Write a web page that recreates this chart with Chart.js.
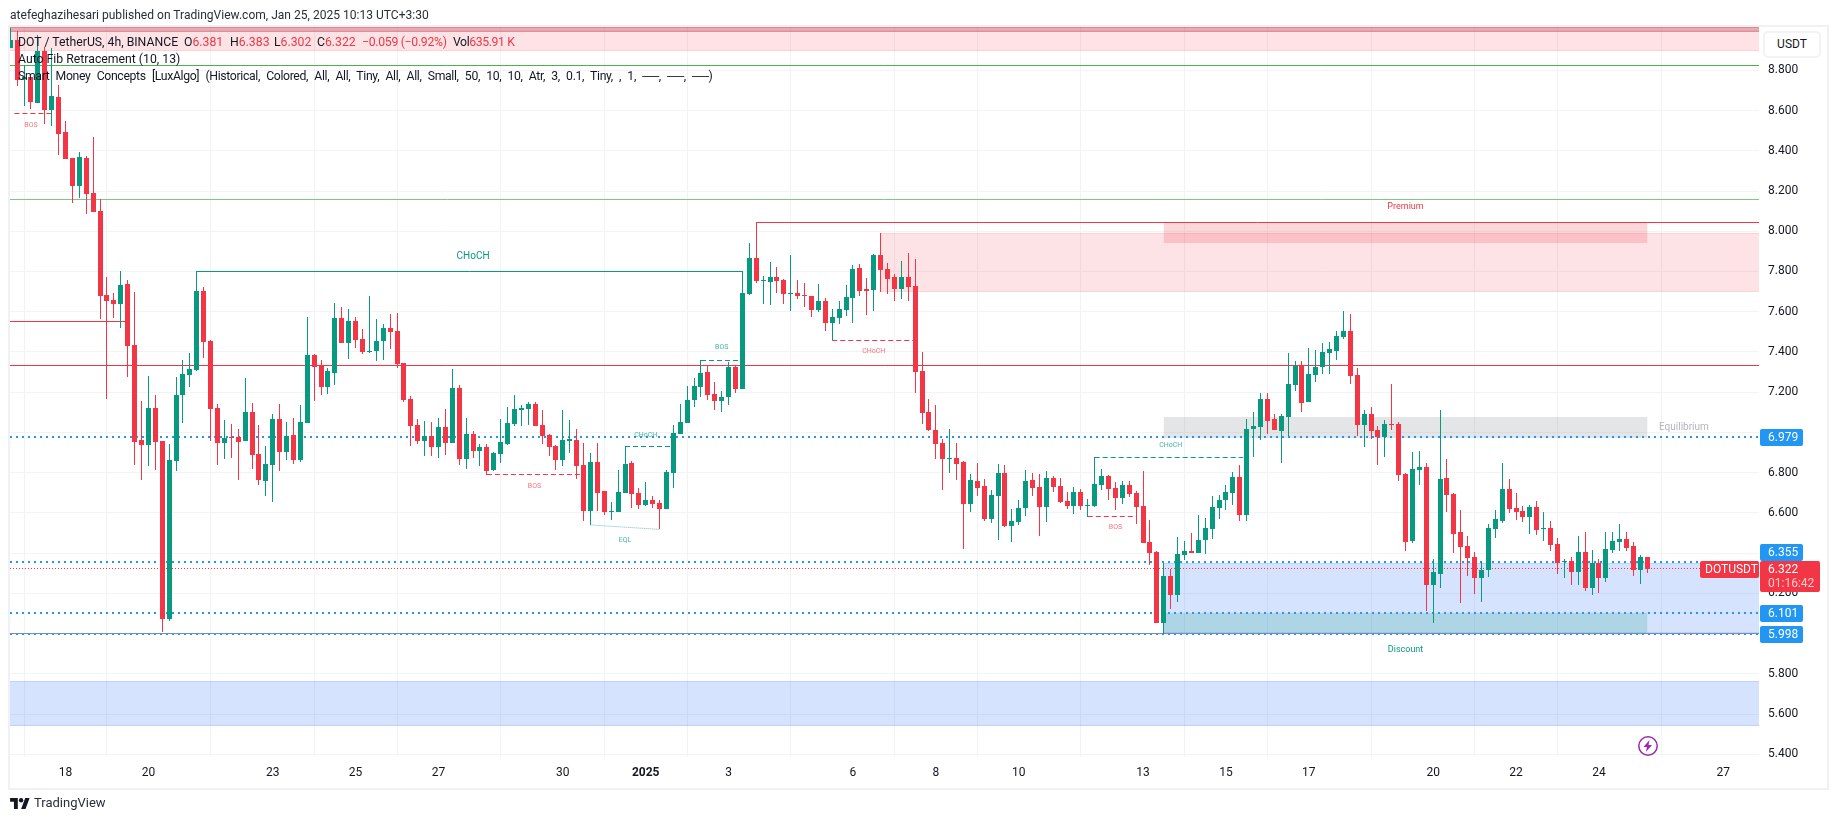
<!DOCTYPE html>
<html>
<head>
<meta charset="utf-8">
<title>DOTUSDT 4h</title>
<script src="https://cdn.jsdelivr.net/npm/chart.js@4"></script>
<style>
  html, body { margin: 0; padding: 0; background: #fff; }
  body { width: 1835px; height: 821px; position: relative; overflow: hidden; font-family: Roboto, sans-serif; color: #131722; }
  #frame { position: absolute; left: 8px; top: 25px; width: 1817px; height: 761px; border: 2px solid #eff1f6; box-sizing: content-box; }
  canvas { position: absolute; left: 0; top: 0; }
  .txt { position: absolute; white-space: pre; }
  #header { left: 10px; top: 6px; font-size: 12.05px; line-height: 18px; color: #2a2e39; }
  .leg { font-size: 12.25px; line-height: 16px; }
  .leg b { font-weight: 400; color: #f23645; }
  #tvname { left: 34px; top: 794px; font-size: 13px; line-height: 18px; color: #2a2e39; }
  #usdt { position: absolute; left: 1763px; top: 31px; width: 54px; height: 23px; border: 2px solid #f0f3fa; border-radius: 5px; background: #fff; font-size: 12px; line-height: 23px; text-align: center; }
  #tvlogo { position: absolute; left: 10px; top: 798px; }
  #bolt { position: absolute; left: 1637px; top: 735px; }
</style>
</head>
<body>
<div id="frame"></div>
<canvas id="grafico" width="1835" height="821"></canvas>
<div class="txt" id="header">atefeghazihesari published on TradingView.com, Jan 25, 2025 10:13 UTC+3:30</div>
<div class="txt leg" style="left:18px;top:34px">DOT / TetherUS, 4h, BINANCE</div>
<div class="txt leg" style="left:184px;top:34px">O<b>6.381</b></div>
<div class="txt leg" style="left:230px;top:34px">H<b>6.383</b></div>
<div class="txt leg" style="left:274px;top:34px">L<b>6.302</b></div>
<div class="txt leg" style="left:317px;top:34px">C<b>6.322</b></div>
<div class="txt leg" style="left:362px;top:34px;letter-spacing:-.3px"><b>−0.059 (−0.92%)</b></div>
<div class="txt leg" style="left:453px;top:34px;letter-spacing:-.4px">Vol<b>635.91 K</b></div>
<div class="txt leg" style="left:18px;top:51px">Auto Fib Retracement (10, 13)</div>
<div class="txt leg" style="left:18px;top:68px;letter-spacing:-.35px;word-spacing:3.5px">Smart Money Concepts [LuxAlgo] (Historical, Colored, All, All, Tiny, All, All, Small, 50, 10, 10, Atr, 3, 0.1, Tiny, , 1, ──, ──, ──)</div>
<div id="usdt">USDT</div>
<svg id="tvlogo" width="20" height="11" viewBox="0 0 36 20"><path fill="#131722" d="M14 20H7V7H0V0h14v20zM28 20h-8l7.500-20h8L28 20z"/><circle fill="#131722" cx="20" cy="4" r="4"/></svg>
<div class="txt" id="tvname">TradingView</div>
<svg id="bolt" width="22" height="22" viewBox="0 0 22 22"><circle cx="11" cy="11" r="9.200" fill="none" stroke="#9c27b0" stroke-width="1.500"/><path fill="#9c27b0" d="M12.500 5 6.500 12h3.500l-1.200 5 6.200-7h-3.500z"/></svg>

<script>
// candles de 4h, o indice 0 e 18 de dezembro 00:00
const firstCandle = -8;

const opens = [
  8.910,8.950,8.756,8.766,8.637,8.895,8.602,8.667,8.493,8.364,
  8.224,8.364,8.190,8.100,7.683,7.658,7.638,7.738,7.435,6.962,
  6.937,7.121,6.957,6.073,6.858,7.186,7.285,7.310,7.703,7.454,
  7.121,6.947,6.977,6.977,6.957,7.101,6.893,6.758,6.838,7.067,
  6.903,6.987,6.863,7.047,7.385,7.335,7.226,7.295,7.569,7.444,
  7.554,7.464,7.400,7.405,7.454,7.519,7.504,7.345,7.166,7.037,
  6.957,6.982,6.928,7.027,6.947,7.221,6.868,6.992,6.908,6.928,
  6.813,6.893,6.942,7.042,7.111,7.116,7.141,7.037,6.987,6.933,
  6.863,6.957,6.962,6.838,6.609,6.853,6.709,6.604,6.604,6.699,
  6.848,6.699,6.639,6.664,6.649,6.619,6.798,6.992,7.047,7.161,
  7.226,7.300,7.191,7.156,7.176,7.325,7.216,7.688,7.867,7.752,
  7.747,7.772,7.757,7.688,7.693,7.683,7.678,7.608,7.653,7.544,
  7.569,7.608,7.668,7.817,7.713,7.708,7.882,7.812,7.772,7.713,
  7.772,7.728,7.305,7.101,7.012,6.947,6.868,6.873,6.853,6.644,
  6.758,6.734,6.570,6.684,6.798,6.535,6.555,6.624,6.763,6.729,
  6.629,6.773,6.734,6.659,6.634,6.704,6.634,6.634,6.739,6.783,
  6.724,6.674,6.739,6.699,6.634,6.455,6.406,6.053,6.286,6.192,
  6.391,6.411,6.401,6.465,6.520,6.624,6.664,6.699,6.778,6.590,
  7.017,7.027,7.166,7.067,7.007,7.076,7.236,7.330,7.151,7.285,
  7.325,7.395,7.405,7.474,7.504,7.285,7.037,7.091,7.012,6.977,
  7.042,7.042,6.793,6.460,6.813,6.828,6.242,6.296,6.773,6.694,
  6.505,6.436,6.381,6.276,6.316,6.520,6.560,6.719,6.624,6.609,
  6.580,6.629,6.520,6.525,6.446,6.356,6.361,6.306,6.406,6.227,
  6.351,6.276,6.416,6.455,6.470,6.436,6.316,6.381
];
const highs = [
  9.008,8.995,8.826,8.766,8.975,8.915,8.910,8.727,8.548,8.364,
  8.394,8.374,8.468,8.160,7.772,7.693,7.802,7.757,7.698,7.156,
  7.280,7.186,6.957,6.942,7.275,7.360,7.395,7.802,7.723,7.459,
  7.141,7.062,7.042,7.017,7.270,7.146,7.037,6.933,7.091,7.141,
  7.052,7.072,7.136,7.574,7.390,7.360,7.320,7.643,7.623,7.613,
  7.574,7.514,7.678,7.564,7.539,7.588,7.593,7.345,7.181,7.067,
  7.057,7.052,7.072,7.116,7.315,7.236,7.072,7.007,6.942,6.942,
  6.903,7.067,7.126,7.186,7.136,7.151,7.151,7.111,6.992,6.937,
  7.111,7.062,7.017,6.947,6.898,6.947,6.709,6.654,6.813,6.933,
  6.858,6.724,6.754,6.684,6.664,6.813,7.037,7.141,7.231,7.270,
  7.360,7.335,7.250,7.206,7.350,7.335,7.802,7.941,8.046,7.777,
  7.847,7.822,7.762,7.882,7.757,7.742,7.678,7.737,7.668,7.613,
  7.653,7.733,7.832,7.837,7.767,7.887,7.991,7.842,7.787,7.852,
  7.892,7.862,7.400,7.166,7.136,6.967,7.017,6.947,6.858,6.793,
  6.848,6.768,6.714,6.843,6.838,6.619,6.664,6.813,6.798,6.793,
  6.808,6.783,6.773,6.704,6.729,6.719,6.669,6.878,6.818,6.788,
  6.754,6.758,6.758,6.709,6.808,6.565,6.411,6.351,6.321,6.480,
  6.460,6.500,6.590,6.575,6.684,6.689,6.739,6.803,6.838,7.067,
  7.101,7.196,7.196,7.091,7.091,7.395,7.355,7.355,7.420,7.410,
  7.444,7.449,7.504,7.603,7.588,7.320,7.111,7.126,7.032,7.062,
  7.240,7.052,6.798,6.903,6.908,6.848,6.371,7.111,6.868,6.699,
  6.614,6.485,6.406,6.361,6.545,6.614,6.848,6.768,6.699,6.634,
  6.639,6.659,6.604,6.560,6.475,6.371,6.381,6.485,6.505,6.416,
  6.371,6.505,6.505,6.545,6.505,6.456,6.391,6.383
];
const lows = [
  8.910,8.721,8.622,8.607,8.637,8.533,8.523,8.379,8.359,8.140,
  8.165,8.085,8.095,7.564,7.166,7.568,7.519,7.275,6.838,6.763,
  6.833,6.813,6.008,6.063,6.808,7.047,7.226,7.305,7.370,6.957,
  6.838,6.868,6.873,6.763,6.957,6.818,6.738,6.684,6.654,6.808,
  6.863,6.843,6.853,7.047,7.156,7.186,7.191,7.236,7.444,7.365,
  7.420,7.390,7.395,7.355,7.360,7.415,7.320,7.151,6.932,6.942,
  6.883,6.883,6.873,6.888,6.947,6.838,6.818,6.873,6.833,6.788,
  6.808,6.848,6.937,7.032,7.032,7.037,7.032,6.942,6.883,6.813,
  6.833,6.898,6.768,6.560,6.540,6.609,6.589,6.565,6.604,6.699,
  6.624,6.619,6.634,6.624,6.520,6.619,6.724,6.992,7.047,7.126,
  7.176,7.161,7.111,7.101,7.136,7.196,7.216,7.683,7.742,7.638,
  7.633,7.693,7.638,7.603,7.663,7.623,7.574,7.598,7.504,7.459,
  7.539,7.579,7.544,7.678,7.584,7.603,7.698,7.688,7.653,7.663,
  7.653,7.196,7.042,7.007,6.868,6.714,6.798,6.763,6.421,6.604,
  6.684,6.560,6.550,6.465,6.530,6.455,6.540,6.585,6.684,6.485,
  6.555,6.704,6.649,6.619,6.594,6.614,6.580,6.629,6.714,6.664,
  6.614,6.644,6.679,6.545,6.450,6.341,6.053,5.998,6.122,6.157,
  6.366,6.401,6.401,6.396,6.470,6.570,6.614,6.639,6.560,6.560,
  6.878,6.962,6.992,7.012,6.848,6.982,7.206,7.101,7.151,7.250,
  7.290,7.290,7.360,7.464,7.240,6.982,6.928,6.967,6.838,6.878,
  7.012,6.758,6.411,6.450,6.738,6.112,6.053,6.227,6.604,6.401,
  6.152,6.286,6.197,6.157,6.281,6.475,6.550,6.599,6.565,6.555,
  6.495,6.490,6.460,6.411,6.296,6.276,6.241,6.241,6.212,6.192,
  6.202,6.256,6.401,6.411,6.411,6.286,6.246,6.302
];
const closes = [
  8.950,8.751,8.766,8.642,8.895,8.602,8.672,8.483,8.359,8.224,
  8.369,8.185,8.095,7.678,7.653,7.638,7.733,7.430,6.952,6.937,
  7.121,6.952,6.073,6.863,7.186,7.290,7.315,7.703,7.449,7.116,
  6.947,6.972,6.972,6.952,7.101,6.888,6.763,6.843,7.067,6.903,
  6.982,6.863,7.052,7.385,7.325,7.226,7.305,7.569,7.444,7.554,
  7.459,7.400,7.405,7.454,7.519,7.499,7.340,7.161,7.032,6.957,
  6.982,6.928,7.027,6.947,7.221,6.868,6.992,6.908,6.928,6.808,
  6.898,6.952,7.047,7.116,7.121,7.141,7.032,6.982,6.928,6.863,
  6.962,6.967,6.833,6.609,6.853,6.699,6.604,6.609,6.704,6.843,
  6.694,6.639,6.664,6.644,6.619,6.803,6.997,7.052,7.161,7.231,
  7.295,7.186,7.156,7.176,7.325,7.216,7.693,7.867,7.752,7.757,
  7.772,7.752,7.688,7.693,7.678,7.678,7.608,7.653,7.544,7.574,
  7.613,7.673,7.812,7.703,7.703,7.882,7.807,7.762,7.713,7.772,
  7.723,7.300,7.096,7.012,6.942,6.868,6.873,6.843,6.644,6.763,
  6.724,6.570,6.689,6.798,6.535,6.560,6.624,6.758,6.724,6.629,
  6.773,6.729,6.654,6.634,6.704,6.634,6.639,6.744,6.783,6.719,
  6.674,6.739,6.694,6.629,6.450,6.401,6.053,6.286,6.192,6.396,
  6.411,6.401,6.465,6.525,6.629,6.664,6.704,6.778,6.590,7.017,
  7.032,7.166,7.057,7.012,7.081,7.240,7.330,7.146,7.290,7.325,
  7.400,7.415,7.479,7.504,7.280,7.037,7.091,7.007,6.977,7.042,
  7.037,6.788,6.455,6.818,6.828,6.242,6.306,6.768,6.689,6.495,
  6.431,6.376,6.276,6.316,6.525,6.570,6.719,6.619,6.604,6.580,
  6.629,6.515,6.525,6.441,6.351,6.361,6.306,6.406,6.227,6.351,
  6.276,6.421,6.460,6.470,6.426,6.316,6.381,6.322
];

// eixo do tempo
const tickDays = [0, 2, 5, 7, 9, 12, 14, 16, 19, 21, 23, 26, 28, 30, 33, 35, 37, 40];
const tickNames = ["18", "20", "23", "25", "27", "30", "2025", "3", "6", "8", "10", "13", "15", "17", "20", "22", "24", "27"];

// eixo de preco
const priceTicks = [9.0, 8.8, 8.6, 8.4, 8.2, 8.0, 7.8, 7.6, 7.4, 7.2, 7.0, 6.8, 6.6, 6.4, 6.2, 6.0, 5.8, 5.6, 5.4];
const hiddenTicks = [9.0, 7.0, 6.4, 6.0];

// niveis
const fibLevels = [8.824, 8.158];
const pivotHighShort = 7.552;
const pivotHighLong = 7.333;
const chochLevel = 7.801;
const premiumLevel = 8.043;
const lastPrice = 6.322;
const autoLevels = [6.979, 6.355, 6.101, 5.998];

// quebras tracejadas: [inicio, fim, preco]
const bosRed = [[-7.4, -2, 8.586], [61, 74.5, 6.793], [148, 155, 6.583]];
const bosGreen = [[81, 87.7, 6.931], [92, 98, 7.358], [149, 170.5, 6.876]];
const chochRed = [[111, 122.7, 7.458]];
const eqlPoints = [[76, 6.540], [86, 6.518]];

// zonas: [inicio, fim, preco alto, preco baixo]
const redZones = [[-8.1, 246, 9.02, 8.897], [118, 246, 7.990, 7.700], [159, 229, 8.043, 7.944]];
const topStrip = [-8.1, 246, 9.02, 8.992];
const grayZones = [[159, 229, 7.076, 6.971]];
const blueZones = [[-8.1, 246, 5.763, 5.542], [159, 246, 6.349, 6.001]];
const tealZones = [[159, 229, 6.104, 6.001]];

// textos no grafico: [indice, preco, texto]
const greenTexts = [[84, 6.985, "CHoCH"], [95, 7.423, "BOS"], [81, 6.462, "EQL"], [160, 6.934, "CHoCH"]];
const redTexts = [[-5, 8.529, "BOS"], [67.9, 6.732, "BOS"], [117, 7.403, "CHoCH"], [152, 6.527, "BOS"]];
const chochText = [59, 7.873, "CHoCH"];
const premiumText = [194, 8.120, "Premium"];
const equilibriumText = [234.3, 7.023, "Equilibrium"];
const discountText = [194, 5.920, "Discount"];

const VERDE = "#089981";
const VERMELHO = "#f23645";
const AZUL = "#2196f3";
const GRADE = "#f2f3f6";
const xMin = -8.035, xMax = 245.17;
const yMin = 5.3866, yMax = 9.0152;

const candleX = opens.map((_, i) => firstCandle + i);
const corCandle = candleX.map((_, i) => (closes[i] > opens[i] ? VERDE : VERMELHO));

function linha(pontos, cor, largura, dash) {
  return {
    type: "line",
    data: pontos.map((p) => ({ x: p[0], y: p[1] })),
    borderColor: cor,
    borderWidth: largura,
    borderDash: dash || [],
    pointRadius: 0,
    tension: 0,
    order: 5,
  };
}
const nivel = (a, b, y) => [[a, y], [b, y]];

const datasets = [
  {
    type: "bar",
    data: candleX.map((x, i) => ({ x, y: [opens[i], closes[i]] })),
    backgroundColor: corCandle,
    barThickness: 5,
    inflateAmount: 0,
    grouped: false,
    order: 1,
  },
  {
    type: "bar",
    data: candleX.map((x, i) => ({ x, y: [lows[i], highs[i]] })),
    backgroundColor: corCandle,
    barThickness: 1,
    inflateAmount: 0,
    grouped: false,
    order: 2,
  },
  linha(nivel(xMin, xMax, fibLevels[0]), "#4caf50", 1),
  linha(nivel(xMin, xMax, fibLevels[1]), "#81c784", 1),
  linha(nivel(xMin, 9, pivotHighShort), VERMELHO, 1),
  linha(nivel(xMin, xMax, pivotHighLong), VERMELHO, 1),
  linha(nivel(19, 98, chochLevel), VERDE, 1),
  linha(nivel(100, xMax, premiumLevel), VERMELHO, 1),
  linha(nivel(xMin, xMax, lastPrice), VERMELHO, 1, [1, 2]),
  linha(nivel(xMin, xMax, autoLevels[3]), "#6f8fc0", 1),
  ...autoLevels.map((p) => linha(nivel(xMin, xMax, p), AZUL, 2, [2, 4])),
  ...bosRed.concat(chochRed).map((s) => linha(nivel(s[0], s[1], s[2]), VERMELHO, 1, [5, 3])),
  ...bosGreen.map((s) => linha(nivel(s[0], s[1], s[2]), VERDE, 1, [5, 3])),
  linha(eqlPoints, "rgba(8,153,129,.6)", 1, [1, 1]),
];

// alinha candles e linhas no pixel para nao borrar
const ajustePixel = {
  id: "ajustePixel",
  afterDatasetsUpdate(chart) {
    chart.data.datasets.forEach((ds, n) => {
      const pts = chart.getDatasetMeta(n).data;
      if (ds.type === "bar") {
        pts.forEach((el) => {
          el.x = Math.floor(el.x) + 0.5;
          el.y = Math.round(el.y);
          el.base = Math.round(el.base);
          if (el.base === el.y) el.base = el.y + 1;
        });
      } else if (pts[0].y === pts[1].y) {
        const py = ds.borderWidth === 1 ? Math.floor(pts[0].y) + 0.5 : Math.round(pts[0].y);
        pts.forEach((el) => { el.y = py; });
      }
    });
  },
};

// zonas coloridas atras dos candles
const zonas = {
  id: "zonas",
  beforeDatasetsDraw(chart) {
    const { ctx, scales: { x, y }, chartArea: a } = chart;
    const caixa = (z, cor, borda) => {
      const x0 = Math.max(x.getPixelForValue(z[0]), a.left);
      const x1 = Math.min(x.getPixelForValue(z[1]), a.right);
      const y0 = Math.max(Math.round(y.getPixelForValue(z[2])), a.top);
      const y1 = Math.round(y.getPixelForValue(z[3]));
      ctx.fillStyle = cor;
      ctx.fillRect(x0, y0, x1 - x0, y1 - y0);
      if (borda) {
        ctx.fillStyle = borda;
        ctx.fillRect(x0, y0, x1 - x0, 1);
        ctx.fillRect(x0, y1 - 1, x1 - x0, 1);
      }
    };
    ctx.save();
    redZones.forEach((z, i) => caixa(z, i < 2 ? "rgba(242,54,69,.14)" : "rgba(242,54,69,.2)", i < 2 ? "rgba(242,54,69,.1)" : null));
    caixa(topStrip, "rgba(190,40,60,.3)", "rgba(190,40,60,.2)");
    grayZones.forEach((z) => caixa(z, "rgba(120,123,134,.2)"));
    blueZones.forEach((z) => caixa(z, "rgba(37,105,250,.19)", "rgba(37,105,250,.14)"));
    tealZones.forEach((z) => caixa(z, "rgba(8,153,129,.2)"));
    ctx.restore();
  },
  afterDatasetsDraw(chart) {
    const { ctx, scales: { x, y } } = chart;
    const texto = (t, cor, tam) => {
      ctx.fillStyle = cor;
      ctx.font = tam + "px Roboto, sans-serif";
      ctx.fillText(t[2], x.getPixelForValue(t[0]), y.getPixelForValue(t[1]));
    };
    ctx.save();
    ctx.textAlign = "center";
    ctx.textBaseline = "middle";
    greenTexts.forEach((t) => texto(t, "rgba(8,153,129,.75)", 7));
    redTexts.forEach((t) => texto(t, "rgba(242,54,69,.7)", 7));
    texto(chochText, VERDE, 10);
    texto(premiumText, VERMELHO, 9);
    texto(equilibriumText, "#b2b5be", 10);
    texto(discountText, VERDE, 9);
    ctx.restore();
  },
};

// etiquetas de preco por cima do eixo, a 6.355 sobe para nao encostar no preco atual
const etiquetas = {
  id: "etiquetas",
  afterDraw(chart) {
    const { ctx, scales: { y } } = chart;
    const caixa = (l, t, w, h) => {
      ctx.beginPath();
      ctx.roundRect(l, t, w, h, 2);
      ctx.fill();
    };
    ctx.save();
    ctx.textBaseline = "middle";
    ctx.font = "12px Roboto, sans-serif";
    autoLevels.forEach((p) => {
      const py = Math.round(y.getPixelForValue(p)) - (p === 6.355 ? 10 : 0);
      ctx.fillStyle = AZUL;
      caixa(1760, py - 8, 43, 17);
      ctx.fillStyle = "#fff";
      ctx.fillText(p.toFixed(3), 1768, py + 1);
    });
    const py = Math.round(y.getPixelForValue(lastPrice));
    ctx.fillStyle = VERMELHO;
    caixa(1760, py - 8, 60, 31);
    caixa(1700, py - 8, 59, 17);
    ctx.fillStyle = "#fff";
    ctx.fillText(lastPrice.toFixed(3), 1768, py + 1);
    ctx.fillText("DOTUSDT", 1705, py + 1);
    ctx.fillStyle = "rgba(255,255,255,.75)";
    ctx.fillText("01:16:42", 1768, py + 15);
    ctx.restore();
  },
};

new Chart(document.getElementById("grafico"), {
  data: { datasets },
  options: {
    responsive: false,
    animation: false,
    layout: { padding: { left: 10, top: 27, right: 10, bottom: 35 } },
    plugins: { legend: { display: false }, tooltip: { enabled: false } },
    scales: {
      x: {
        type: "linear",
        min: xMin,
        max: xMax,
        offset: false,
        afterFit: (s) => { s.height = 29; },
        afterBuildTicks: (s) => { s.ticks = tickDays.map((d) => ({ value: d * 6 })); },
        grid: { color: GRADE, drawTicks: false },
        border: { display: false },
        ticks: {
          autoSkip: false,
          maxRotation: 0,
          padding: 9,
          color: "#131722",
          font: (c) => ({ family: "Roboto, sans-serif", size: 12, weight: c.tick && c.tick.label === "2025" ? "bold" : "normal" }),
          callback: (v) => tickNames[tickDays.indexOf(v / 6)],
        },
      },
      y: {
        type: "linear",
        position: "right",
        min: yMin,
        max: yMax,
        afterFit: (s) => { s.width = 66; },
        afterBuildTicks: (s) => { s.ticks = priceTicks.map((p) => ({ value: p })); },
        grid: { color: GRADE, drawTicks: false },
        border: { display: false },
        ticks: {
          padding: 9,
          color: "#131722",
          font: { family: "Roboto, sans-serif", size: 12 },
          callback: (v) => (hiddenTicks.includes(v) ? "" : v.toFixed(3)),
        },
      },
    },
  },
  plugins: [ajustePixel, zonas, etiquetas],
});
</script>
</body>
</html>
